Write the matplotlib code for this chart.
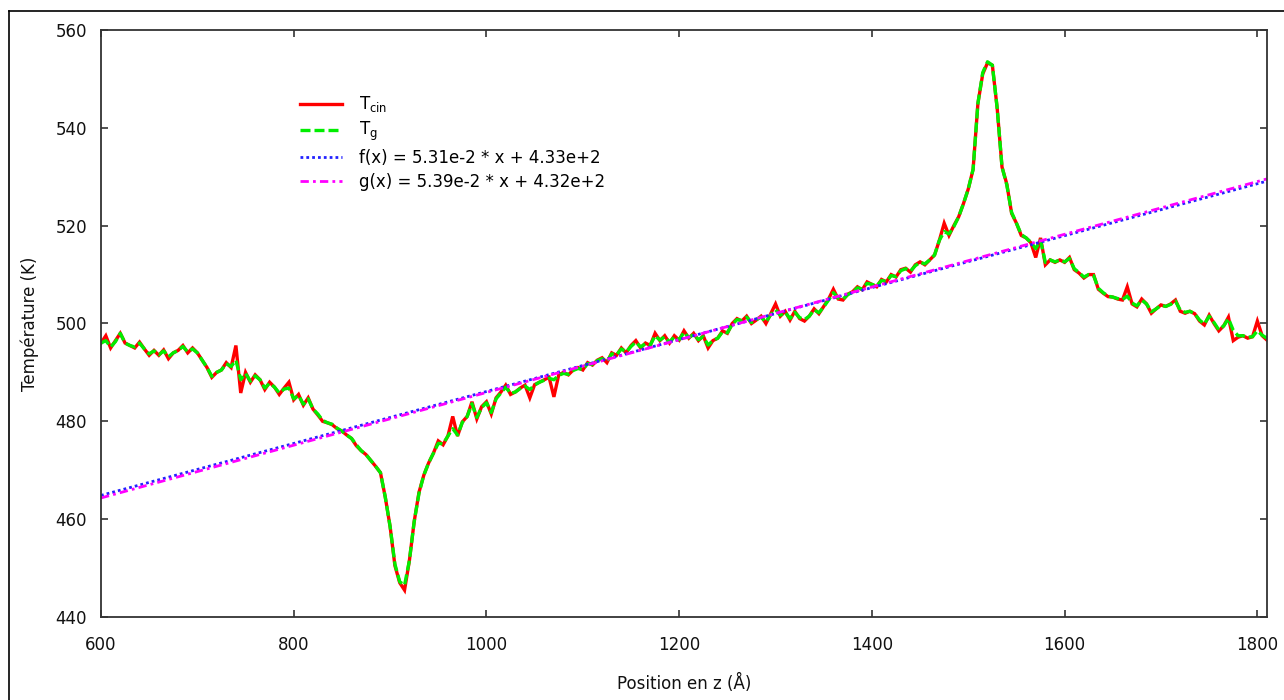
import numpy as np
import matplotlib
matplotlib.use("Agg")
import matplotlib.pyplot as plt
from matplotlib.lines import Line2D

plt.rcParams['font.family'] = ['DejaVu Sans']
plt.rcParams['mathtext.default'] = 'regular'

# Position along z (Angstrom), sampled every 5 A
z_start, z_stop, z_step = 600, 1810, 5

# Kinetic temperature profile (K)
t_cin = [
    496.0, 497.5, 495.0, 496.5, 498.0, 496.0, 495.5, 495.0, 496.2, 494.8,
    493.5, 494.5, 493.5, 494.6, 492.8, 494.0, 494.5, 495.5, 494.0, 495.0,
    494.0, 492.5, 491.0, 489.0, 490.0, 490.5, 492.0, 491.0, 495.5, 485.8,
    490.0, 488.0, 489.5, 488.5, 486.5, 488.0, 487.0, 485.5, 486.8, 488.0,
    484.4, 485.5, 483.3, 484.8, 482.5, 481.3, 480.0, 479.7, 479.3, 478.5,
    478.0, 477.2, 476.5, 475.0, 474.0, 473.2, 472.0, 470.8, 469.5, 464.5,
    458.5, 450.5, 447.0, 445.5, 451.5, 459.5, 465.5, 469.0, 471.5, 473.5,
    476.0, 475.2, 477.0, 481.0, 477.0, 479.9, 481.0, 484.0, 480.5, 483.0,
    484.0, 481.5, 484.8, 486.0, 487.4, 485.5, 486.0, 486.8, 487.4, 484.8,
    487.5, 488.0, 488.5, 489.0, 485.0, 489.5, 490.0, 489.5, 490.5, 491.0,
    490.5, 492.0, 491.5, 492.5, 493.0, 492.0, 494.0, 493.5, 495.0, 494.0,
    495.5, 496.5, 495.0, 496.0, 495.5, 498.0, 496.5, 497.5, 496.0, 497.5,
    496.6, 498.5, 497.0, 498.0, 496.5, 497.5, 495.0, 496.5, 497.0, 498.5,
    498.0, 500.0, 501.0, 500.5, 501.5, 500.0, 500.7, 501.5, 500.0, 502.0,
    504.0, 501.5, 502.5, 500.7, 502.5, 501.0, 500.5, 501.5, 503.0, 502.0,
    503.5, 505.0, 507.0, 505.0, 504.8, 506.0, 506.5, 507.5, 506.9, 508.5,
    508.0, 507.5, 509.0, 508.5, 510.0, 509.5, 511.0, 511.3, 510.5, 512.0,
    512.6, 512.0, 513.0, 514.0, 517.0, 520.5, 518.0, 520.0, 521.8, 524.5,
    527.5, 531.5, 545.0, 551.0, 553.3, 552.8, 544.0, 532.0, 528.5, 522.5,
    520.5, 518.0, 517.5, 516.5, 513.5, 517.5, 512.0, 513.0, 512.5, 513.0,
    512.5, 513.5, 511.0, 510.3, 509.3, 510.0, 510.0, 507.0, 506.2, 505.5,
    505.4, 505.0, 504.8, 507.5, 504.0, 503.4, 505.0, 504.0, 502.1, 503.0,
    503.8, 503.5, 504.0, 504.8, 502.5, 502.1, 502.5, 502.0, 500.5, 499.7,
    501.7, 500.0, 498.5, 499.5, 501.3, 496.5, 497.2, 497.5, 497.0, 497.3,
    500.5, 497.5, 496.6,
]

# Temperature from the configurational estimator (K)
t_g = [
    496.0, 496.5, 495.2, 496.3, 498.0, 496.0, 495.5, 495.2, 496.0, 494.8,
    493.8, 494.4, 493.6, 494.4, 493.2, 494.0, 494.5, 495.3, 494.2, 494.8,
    494.0, 492.5, 491.0, 489.2, 490.0, 490.5, 491.8, 491.2, 492.5, 488.5,
    489.8, 488.2, 489.3, 488.5, 486.8, 487.8, 487.0, 485.8, 486.6, 486.8,
    484.6, 485.3, 483.5, 484.6, 482.5, 481.5, 480.2, 479.7, 479.4, 478.6,
    478.0, 477.2, 476.5, 475.2, 474.0, 473.2, 472.0, 470.8, 469.5, 464.5,
    458.5, 450.8, 447.2, 446.5, 451.5, 459.5, 465.3, 469.0, 471.5, 473.5,
    475.5, 475.4, 477.0, 478.5, 477.2, 479.8, 481.0, 483.6, 480.8, 482.8,
    483.8, 481.8, 484.6, 485.8, 487.0, 485.7, 486.0, 486.7, 487.2, 486.5,
    487.4, 488.0, 488.4, 488.8, 488.5, 489.4, 489.8, 489.6, 490.4, 490.8,
    490.6, 491.8, 491.6, 492.4, 492.8, 492.2, 493.8, 493.6, 494.8, 494.2,
    495.3, 496.2, 495.2, 495.9, 495.6, 497.5, 496.6, 497.3, 496.2, 497.3,
    496.7, 498.2, 497.1, 497.8, 496.7, 497.3, 495.6, 496.5, 497.0, 498.3,
    498.1, 499.8, 500.8, 500.6, 501.3, 500.2, 500.8, 501.3, 500.3, 501.8,
    502.8, 501.7, 502.3, 501.0, 502.3, 501.2, 500.8, 501.5, 502.8, 502.2,
    503.4, 504.8, 506.3, 505.2, 505.0, 505.9, 506.4, 507.3, 507.0, 508.2,
    508.0, 507.7, 508.8, 508.6, 509.8, 509.6, 510.8, 511.2, 510.7, 511.8,
    512.5, 512.2, 513.0, 514.0, 517.0, 518.8, 518.3, 519.8, 521.8, 524.5,
    527.5, 531.5, 545.0, 551.3, 553.5, 552.8, 544.0, 532.0, 528.3, 522.7,
    520.5, 518.2, 517.5, 516.6, 515.3, 517.0, 512.5, 513.0, 512.6, 513.0,
    512.6, 513.3, 511.2, 510.4, 509.5, 510.0, 509.8, 507.2, 506.3, 505.6,
    505.4, 505.1, 504.9, 505.6, 504.2, 503.6, 504.8, 504.0, 502.4, 503.0,
    503.7, 503.5, 503.9, 504.6, 502.7, 502.3, 502.5, 502.0, 500.7, 499.9,
    501.5, 500.2, 498.7, 499.5, 501.0, 498.6, 497.5, 497.5, 497.2, 497.3,
    498.5, 497.6, 497.0,
]

# Linear fits of the two profiles: slope, intercept
fit_f = (5.31e-2, 4.33e2)
fit_g = (5.39e-2, 4.32e2)

z = np.arange(z_start, z_stop + 1, z_step)
z_line = np.array([z_start, z_stop])

fig = plt.figure(figsize=(12.84, 7.0), dpi=100)
ax = fig.add_axes([101 / 1284, 1 - 617 / 700, 1166 / 1284, 587 / 700])

ax.plot(z, t_cin, color='#ff0000', lw=2.4, solid_joinstyle='miter',
        label=r'T$_{cin}$')
ax.plot(z, t_g, color='#00ee00', lw=2.4, dashes=(3.0, 1.2),
        label=r'T$_{g}$')
ax.plot(z_line, fit_f[0] * z_line + fit_f[1], color='#2222ff', lw=2.0,
        dashes=(1, 1.1), label='f(x) = 5.31e-2 * x + 4.33e+2')
ax.plot(z_line, fit_g[0] * z_line + fit_g[1], color='#ff00ff', lw=2.0,
        dashes=(3, 1.5, 1, 1.5), label='g(x) = 5.39e-2 * x + 4.32e+2')

ax.set_xlim(600, 1810)
ax.set_ylim(440, 560)
ax.set_xticks([600, 800, 1000, 1200, 1400, 1600, 1800])
ax.set_yticks([440, 460, 480, 500, 520, 540, 560])

for side in ['left', 'right', 'top', 'bottom']:
    ax.spines[side].set_color('#333333')
    ax.spines[side].set_linewidth(1.3)

ax.tick_params(direction='in', length=5, width=1.2, color='#333333',
               top=True, right=True, labelsize=12, labelcolor='#111111')
ax.tick_params(axis='x', pad=14)
ax.tick_params(axis='y', pad=10)

ax.set_xlabel('Position en z (Å)', fontsize=12, color='#111111', labelpad=14)
ax.set_ylabel('Température (K)', fontsize=12, color='#111111', labelpad=12)

leg = ax.legend(loc='upper left', bbox_to_anchor=(292 / 1284, 1 - 86 / 700),
                bbox_transform=fig.transFigure, frameon=False, fontsize=12,
                handlelength=2.5, handletextpad=1.0, labelspacing=0.35,
                borderpad=0)

# Outer frame around the drawing
fig.add_artist(Line2D([9 / 1284, 9 / 1284], [0, 1 - 11 / 700],
                      color='black', lw=1.2, transform=fig.transFigure))
fig.add_artist(Line2D([9 / 1284, 1], [1 - 11 / 700, 1 - 11 / 700],
                      color='black', lw=1.2, transform=fig.transFigure))

fig.savefig('out.png', dpi=100)
